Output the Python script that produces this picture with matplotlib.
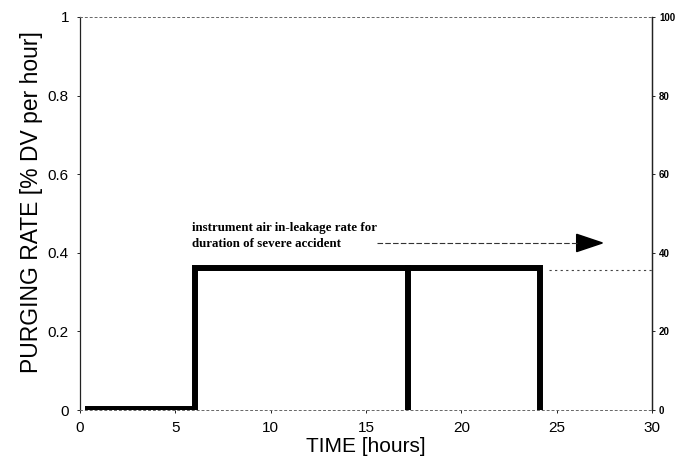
import matplotlib.pyplot as plt

# purging rate profile [% DV per hour] vs time [hours]
time_h = [0.4, 6.05, 6.05, 24.15, 24.15]
rate = [0.003, 0.003, 0.362, 0.362, 0.0]
split_time = [17.2, 17.2]
split_rate = [0.0, 0.362]
ref_time = [24.6, 30.0]
ref_rate = [0.357, 0.357]

x_ticks = [0, 5, 10, 15, 20, 25, 30]
y_ticks = [0, 0.2, 0.4, 0.6, 0.8, 1.0]
y_labels = ["0", "0.2", "0.4", "0.6", "0.8", "1"]
y2_ticks = [0, 20, 40, 60, 80, 100]

plt.rcParams["font.family"] = ["Liberation Sans", "DejaVu Sans"]

fig = plt.figure(figsize=(6.86, 4.71), dpi=100)
ax = fig.add_axes([0.1166, 0.1295, 0.8338, 0.8345])

ax.plot(time_h, rate, color="black", linewidth=4.3, solid_joinstyle="miter")
ax.plot(split_time, split_rate, color="black", linewidth=4.3)
ax.plot(ref_time, ref_rate, color="#444444", linewidth=0.8, linestyle=(0, (2, 3)))

# annotation with dashed arrow
ax.text(5.9, 0.462, "instrument air in-leakage rate for", fontsize=9.3,
        fontweight="bold", family="Liberation Serif", va="center")
ax.text(5.9, 0.422, "duration of severe accident", fontsize=9.3,
        fontweight="bold", family="Liberation Serif", va="center")
ax.plot([15.6, 26.1], [0.425, 0.425], color="#333333", linewidth=0.8,
        linestyle=(0, (5, 2)))
ax.fill([26.05, 27.4, 26.05], [0.447, 0.425, 0.403], color="black")

ax.set_xlim(0, 30)
ax.set_ylim(0, 1)
ax.set_xticks(x_ticks)
ax.set_yticks(y_ticks)
ax.set_yticklabels(y_labels)
ax.tick_params(labelsize=11, length=2, width=0.6, pad=6)
ax.set_xlabel("TIME [hours]", fontsize=15, labelpad=1)
ax.set_ylabel("PURGING RATE [% DV per hour]", fontsize=16.5)
ax.yaxis.set_label_coords(-0.064, 0.53)

for side in ["top", "bottom"]:
    ax.spines[side].set_linestyle((0, (2, 3)))
    ax.spines[side].set_color("#666666")
    ax.spines[side].set_linewidth(0.7)
for side in ["left", "right"]:
    ax.spines[side].set_color("#222222")
    ax.spines[side].set_linewidth(0.9)

ax2 = ax.twinx()
ax2.set_ylim(0, 100)
ax2.set_yticks(y2_ticks)
ax2.tick_params(labelsize=7, length=2, width=0.6, pad=3)
for lbl in ax2.get_yticklabels():
    lbl.set_fontweight("bold")
for side in ["top", "bottom", "left"]:
    ax2.spines[side].set_visible(False)
ax2.spines["right"].set_color("#222222")
ax2.spines["right"].set_linewidth(0.9)

fig.savefig("out.png", dpi=100)
